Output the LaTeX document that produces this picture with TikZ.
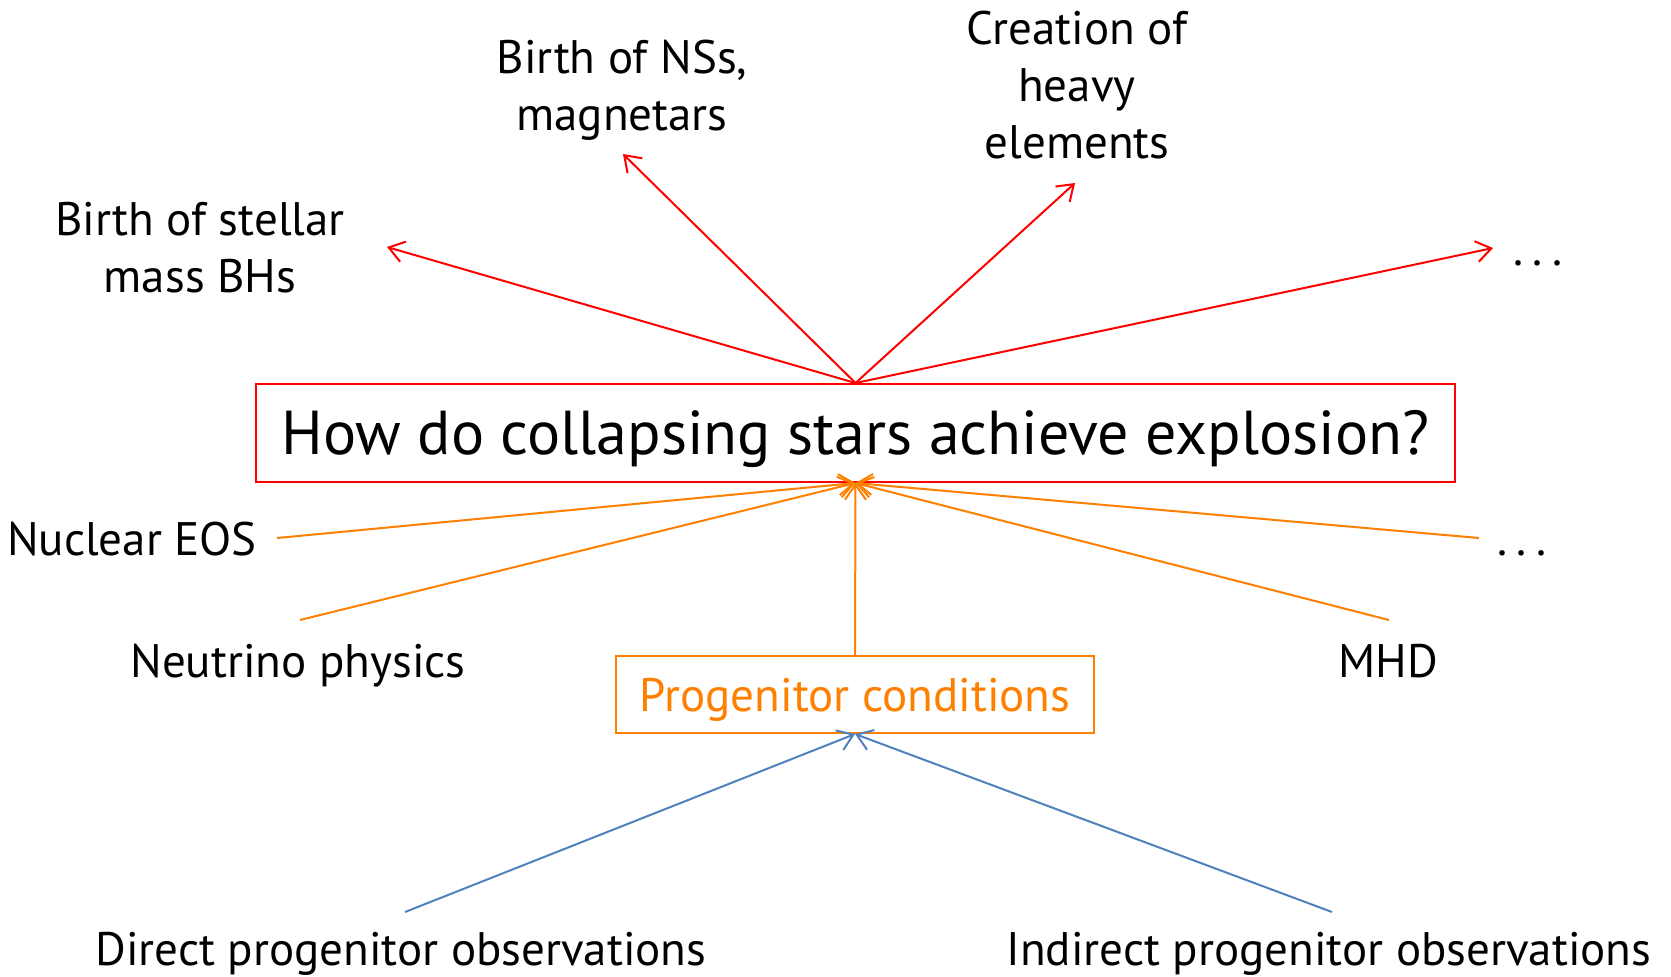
\documentclass[tikz,border=0pt]{standalone}
\usepackage{fontspec}
\setmainfont{PT Sans}
\usetikzlibrary{arrows.meta}
\definecolor{snred}{RGB}{255,0,0}
\definecolor{snorange}{RGB}{255,128,0}
\definecolor{snblue}{RGB}{79,129,189}

\begin{document}
\begin{tikzpicture}[x=0.5pt,y=-0.5pt,
  lbl/.style={font=\fontsize{23.5}{28.5}\selectfont, align=center, inner sep=0pt, anchor=base},
  barb/.style={line width=1pt, -{Straight Barb[length=7.5pt,width=10.5pt]}},
  outArrow/.style={barb, draw=snred},
  inArrow/.style={barb, draw=snorange},
  obsArrow/.style={barb, draw=snblue}
]
  \newcommand{\moreDots}{.\kern0.2em.\kern0.2em.}
  \useasboundingbox (0,0) rectangle (1671,976);

  % question and progenitor boxes
  \node[draw=snred, line width=1pt, minimum width=599.5pt, minimum height=49pt,
        text height=21.5pt, text depth=0pt, inner sep=0pt,
        font=\fontsize{31}{36}\selectfont] (main) at (855.5,433) {How do collapsing stars achieve explosion?};
  \node[draw=snorange, line width=1pt, minimum width=239pt, minimum height=38.5pt,
        text height=16.5pt, text depth=0pt, inner sep=0pt, text=snorange,
        font=\fontsize{23.5}{28}\selectfont] (prog) at (855,694.5) {Progenitor conditions};

  % outcomes (base = last line)
  \node[lbl] (bhs) at (200,292) {Birth of stellar\\mass BHs};
  \node[lbl] (nss) at (622,130) {Birth of NSs,\\magnetars};
  \node[lbl] (heavy) at (1077,158) {Creation of\\heavy\\elements};
  \node[lbl] (moreOut) at (1538,265) {\moreDots};
  \coordinate (bhsTip) at (387,247);
  \coordinate (nssTip) at (623,154);
  \coordinate (heavyTip) at (1075,183);
  \coordinate (moreOutTip) at (1493,248);

  % ingredients
  \node[lbl] (eos) at (132,555) {Nuclear EOS};
  \node[lbl] (nu) at (298,677) {Neutrino physics};
  \node[lbl] (mhd) at (1388,677) {MHD};
  \node[lbl] (moreIn) at (1522,555) {\moreDots};
  \coordinate (eosEnd) at (277,538);
  \coordinate (nuEnd) at (300,620);
  \coordinate (mhdEnd) at (1389,620);
  \coordinate (moreInEnd) at (1479,538);

  % observations
  \node[lbl] (direct) at (401,965) {Direct progenitor observations};
  \node[lbl] (indirect) at (1329,965) {Indirect progenitor observations};
  \coordinate (directEnd) at (405,912);
  \coordinate (indirectEnd) at (1332,912);

  \foreach \t in {bhsTip,nssTip,heavyTip,moreOutTip}
    \draw[outArrow] (main.north) -- (\t);
  \foreach \s in {eosEnd,nuEnd,mhdEnd,moreInEnd}
    \draw[inArrow] (\s) -- (main.south);
  \draw[inArrow] (prog.north) -- (main.south);
  \draw[obsArrow] (directEnd) -- (prog.south);
  \draw[obsArrow] (indirectEnd) -- (prog.south);
\end{tikzpicture}
\end{document}
